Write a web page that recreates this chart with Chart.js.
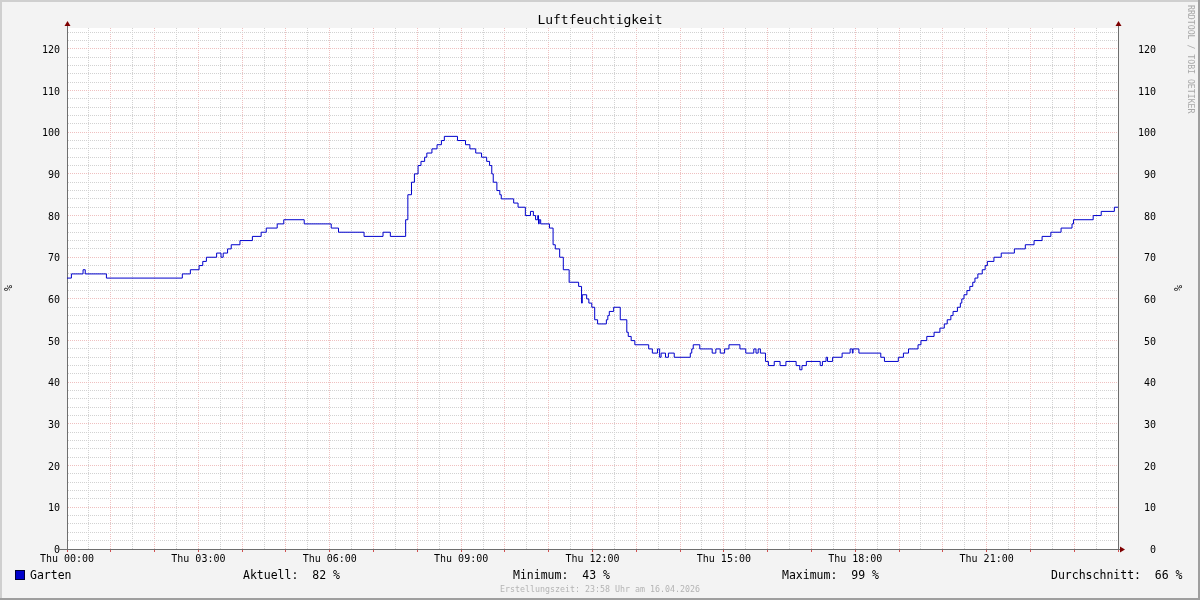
<!DOCTYPE html>
<html lang="de">
<head>
<meta charset="UTF-8">
<title>Luftfeuchtigkeit</title>
<script src="https://cdn.jsdelivr.net/npm/chart.js"></script>
<style>
  html, body { margin: 0; padding: 0; background: #f3f3f3; }
  #wrap { width: 1200px; height: 600px; }
</style>
</head>
<body>
<div id="wrap"><canvas id="chart" width="1200" height="600"></canvas></div>
<script>
// Zeitpunkte (Minuten seit 00:00), ab denen der jeweilige Wert gilt
const minutes = [
  0, 6, 22, 25, 54, 158, 169, 181, 186, 191, 205, 211, 214, 220, 225, 237, 254, 266, 273, 288,
  297, 325, 362, 372, 407, 433, 443, 464, 467, 472, 476, 481, 485, 490, 493, 500, 507, 513, 517, 535,
  546, 552, 560, 568, 575, 579, 582, 584, 589, 593, 595, 612, 618, 628, 635, 639, 642, 645, 646, 647,
  649, 661, 666, 669, 675, 680, 688, 701, 705, 706, 712, 715, 719, 723, 727, 739, 741, 743, 749, 758,
  767, 769, 773, 778, 797, 802, 809, 812, 814, 820, 824, 832, 854, 856, 858, 867, 884, 889, 895, 901,
  907, 922, 930, 941, 944, 947, 950, 957, 961, 969, 977, 985, 999, 1004, 1007, 1013, 1032, 1035, 1040, 1042,
  1049, 1062, 1073, 1076, 1077, 1085, 1115, 1120, 1139, 1146, 1153, 1166, 1170, 1178, 1188, 1196, 1202, 1206, 1211, 1214,
  1220, 1224, 1226, 1229, 1233, 1237, 1241, 1244, 1248, 1254, 1258, 1261, 1270, 1280, 1298, 1313, 1325, 1336, 1348, 1362,
  1377, 1379, 1406, 1417, 1435, 1440
];
const humidity = [
  65, 66, 67, 66, 65, 66, 67, 68, 69, 70, 71, 70, 71, 72, 73, 74, 75, 76, 77, 78,
  79, 78, 77, 76, 75, 76, 75, 79, 85, 88, 90, 92, 93, 94, 95, 96, 97, 98, 99, 98,
  97, 96, 95, 94, 93, 92, 90, 88, 86, 85, 84, 83, 82, 80, 81, 80, 79, 80, 78, 79,
  78, 77, 73, 72, 70, 67, 64, 63, 59, 61, 60, 59, 58, 55, 54, 55, 56, 57, 58, 55,
  52, 51, 50, 49, 48, 47, 48, 46, 47, 46, 47, 46, 47, 48, 49, 48, 47, 48, 47, 48,
  49, 48, 47, 48, 47, 48, 47, 45, 44, 45, 44, 45, 44, 43, 44, 45, 44, 45, 46, 45,
  46, 47, 48, 47, 48, 47, 46, 45, 46, 47, 48, 49, 50, 51, 52, 53, 54, 55, 56, 57,
  58, 59, 60, 61, 62, 63, 64, 65, 66, 67, 68, 69, 70, 71, 72, 73, 74, 75, 76, 77,
  78, 79, 80, 81, 82, 82
];
const seriesName = 'Garten';
const chartTitle = 'Luftfeuchtigkeit';
const dayName = 'Thu';
const unitLabel = '%';
const statLabels = ['Aktuell:', 'Minimum:', 'Maximum:', 'Durchschnitt:'];
const statValues = [82, 43, 99, 66];
const footerText = 'Erstellungszeit: 23:58 Uhr am 16.04.2026';
const watermark = 'RRDTOOL / TOBI OETIKER';

const MONO = '"DejaVu Sans Mono", monospace';
const LINE = '#0000cc';
const MINOR = '#d2d2d2';
const MAJOR = '#efc0c0';
const AXIS = '#6e6e6e';
const ARROW = '#7f0000';

function pad2(n) { return String(n).padStart(2, '0'); }

const rrdDecor = {
  id: 'rrdDecor',
  beforeDraw(chart) {
    const { ctx, chartArea: a } = chart;
    ctx.save();
    ctx.fillStyle = '#f3f3f3';
    ctx.fillRect(0, 0, 1200, 600);
    ctx.fillStyle = '#ffffff';
    ctx.fillRect(a.left, a.top, a.right - a.left, a.bottom - a.top);
    ctx.restore();
  },
  afterDraw(chart) {
    const { ctx, chartArea: a } = chart;
    ctx.save();

    // frame
    ctx.fillStyle = '#cfcfcf';
    ctx.fillRect(0, 0, 1200, 2);
    ctx.fillRect(0, 0, 2, 600);
    ctx.fillStyle = '#9e9e9e';
    ctx.fillRect(0, 598, 1200, 2);
    ctx.fillRect(1198, 0, 2, 600);

    // axis extensions
    ctx.strokeStyle = AXIS;
    ctx.lineWidth = 1;
    ctx.beginPath();
    ctx.moveTo(a.left + 0.5, a.top); ctx.lineTo(a.left + 0.5, a.top - 3);
    ctx.moveTo(a.right + 0.5, a.top); ctx.lineTo(a.right + 0.5, a.top - 3);
    ctx.moveTo(a.left - 8, a.bottom + 0.5); ctx.lineTo(a.right + 4, a.bottom + 0.5);
    ctx.stroke();

    // arrows
    ctx.fillStyle = ARROW;
    [a.left + 0.5, a.right + 0.5].forEach(x => {
      ctx.beginPath();
      ctx.moveTo(x, a.top - 7);
      ctx.lineTo(x - 3, a.top - 2);
      ctx.lineTo(x + 3, a.top - 2);
      ctx.closePath();
      ctx.fill();
    });
    ctx.beginPath();
    ctx.moveTo(a.right + 7, a.bottom + 0.5);
    ctx.lineTo(a.right + 2, a.bottom - 2.5);
    ctx.lineTo(a.right + 2, a.bottom + 3.5);
    ctx.closePath();
    ctx.fill();

    // title
    ctx.fillStyle = '#000';
    ctx.textBaseline = 'middle';
    ctx.textAlign = 'center';
    ctx.font = '13px ' + MONO;
    ctx.fillText(chartTitle, 600, 20.5);

    // vertical unit labels
    ctx.font = '10px ' + MONO;
    [9, 1179].forEach(x => {
      ctx.save();
      ctx.translate(x, 288);
      ctx.rotate(-Math.PI / 2);
      ctx.fillText(unitLabel, 0, 0);
      ctx.restore();
    });

    // watermark
    ctx.save();
    ctx.fillStyle = '#a8a8a8';
    ctx.font = '8.2px ' + MONO;
    ctx.translate(1190, 5);
    ctx.rotate(Math.PI / 2);
    ctx.textAlign = 'left';
    ctx.fillText(watermark, 0, 0);
    ctx.restore();

    // legend
    ctx.fillStyle = LINE;
    ctx.fillRect(15, 570, 9, 9);
    ctx.strokeStyle = '#000033';
    ctx.strokeRect(15.5, 570.5, 9, 9);
    ctx.fillStyle = '#000';
    ctx.textAlign = 'left';
    ctx.font = '11.5px ' + MONO;
    ctx.fillText(seriesName, 30, 576);
    const statX = [243, 513, 782, 1051];
    statLabels.forEach((lab, i) => {
      ctx.fillText(lab + '  ' + statValues[i] + ' %', statX[i], 576);
    });

    // footer
    ctx.fillStyle = '#b4b4b4';
    ctx.textAlign = 'center';
    ctx.font = '8.3px ' + MONO;
    ctx.fillText(footerText, 600, 589.5);

    ctx.restore();
  }
};

const points = minutes.map((m, i) => ({ x: m, y: humidity[i] }));

new Chart(document.getElementById('chart'), {
  type: 'line',
  data: {
    datasets: [{
      label: seriesName,
      data: points,
      borderColor: LINE,
      borderWidth: 1,
      pointRadius: 0,
      stepped: true,
      fill: false
    }]
  },
  options: {
    responsive: false,
    animation: false,
    layout: { padding: { top: 28, left: 0, right: 44, bottom: 0 } },
    plugins: {
      legend: { display: false },
      tooltip: { enabled: false },
      title: { display: false }
    },
    scales: {
      x: {
        type: 'linear',
        min: 0,
        max: 1440,
        afterFit(s) { s.height = 51; },
        ticks: {
          stepSize: 30,
          autoSkip: false,
          maxRotation: 0,
          padding: 1,
          color: '#000',
          font: { family: MONO, size: 10 },
          callback: v => (v % 180 === 0 && v < 1440) ? dayName + ' ' + pad2(v / 60) + ':00' : ''
        },
        grid: {
          color: c => c.tick.value % 60 === 0 ? MAJOR : MINOR,
          lineWidth: 1,
          borderDash: [1, 1],
          drawTicks: true,
          tickLength: 3,
          tickColor: c => c.tick.value % 60 === 0 ? '#d05050' : 'rgba(0,0,0,0)'
        },
        border: { color: AXIS, dash: [1, 1] }
      },
      y: {
        position: 'left',
        min: 0,
        max: 125,
        afterFit(s) { s.width = 67; },
        ticks: {
          stepSize: 2,
          autoSkip: false,
          includeBounds: false,
          padding: 7,
          labelOffset: 1.5,
          color: '#000',
          font: { family: MONO, size: 10 },
          callback: v => v % 10 === 0 ? String(v) : ''
        },
        grid: {
          color: c => c.tick.value % 10 === 0 ? MAJOR : MINOR,
          lineWidth: 1,
          borderDash: [1, 1],
          drawTicks: false
        },
        border: { color: AXIS, dash: [1, 1] }
      },
      y2: {
        position: 'right',
        min: 0,
        max: 125,
        afterFit(s) { s.width = 38; },
        ticks: {
          stepSize: 2,
          autoSkip: false,
          includeBounds: false,
          padding: 20,
          labelOffset: 1.5,
          crossAlign: 'far',
          color: '#000',
          font: { family: MONO, size: 10 },
          callback: v => v % 10 === 0 ? String(v) : ''
        },
        grid: { display: false, drawTicks: false },
        border: { color: AXIS }
      }
    }
  },
  plugins: [rrdDecor]
});
</script>
</body>
</html>
